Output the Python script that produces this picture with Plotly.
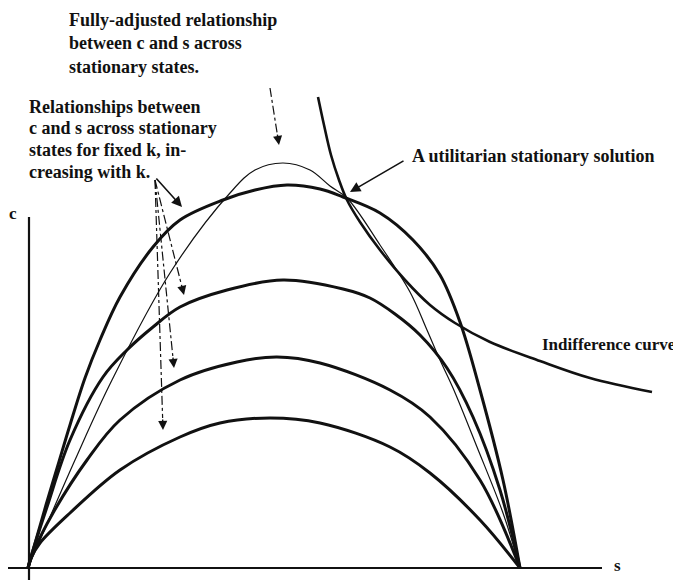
import numpy as np
import plotly.graph_objects as go

# ---- data (s, c) in arbitrary diagram units ----
# fixed-k curves, k increasing from k4 (lowest) to k1 (highest)
k1_s = [0, 8, 18, 30, 42, 57, 72, 92, 125, 152, 195, 227, 259, 292, 315, 352, 385, 412, 432, 452, 475, 492]
k1_c = [0, 28, 63, 103, 143, 190, 228, 271, 321, 348, 368, 378, 383, 379, 371, 355, 328, 293, 246, 178, 88, 0]

k2_s = [0, 2, 19, 42, 75, 99, 125, 152, 199, 255, 315, 342, 367, 392, 419, 445, 472, 492]
k2_c = [0, 8, 61, 128, 191, 218, 241, 261, 278, 288, 279, 270, 254, 233, 200, 151, 78, 0]

k3_s = [0, 5, 25, 59, 92, 152, 209, 249, 292, 362, 402, 452, 492]
k3_c = [0, 15, 55, 108, 148, 188, 206, 211, 205, 178, 151, 88, 0]

k4_s = [0, 3, 12, 42, 92, 152, 192, 242, 292, 362, 402, 452, 492]
k4_c = [0, 10, 25, 55, 98, 131, 145, 150, 145, 121, 95, 48, 0]

# fully-adjusted relationship (thin)
fa_s = [0, 47, 84, 142, 202, 227, 255, 282, 302, 319, 352, 382, 399, 412, 425, 449, 475, 492]
fa_c = [0, 108, 188, 295, 375, 398, 405, 398, 382, 370, 323, 276, 238, 208, 180, 121, 55, 0]

# indifference curve
ic_s = [290, 296, 303, 311, 319, 332, 352, 377, 402, 427, 462, 512, 562, 624]
ic_c = [471, 443, 413, 388, 368, 346, 318, 288, 263, 245, 226, 207, 190, 176]

curves = [(k1_s, k1_c, 3.0), (k2_s, k2_c, 3.0), (k3_s, k3_c, 3.0), (k4_s, k4_c, 3.0),
          (fa_s, fa_c, 1.2), (ic_s, ic_c, 2.6)]

# arrows: (tail_s, tail_c, head_s, head_c)
solid_arrows = [(127, 391, 154, 361), (377, 408, 322, 376)]
dashed_arrows = [(242, 480, 251, 423), (127, 388, 156, 273), (127, 388, 146, 200), (127, 388, 135, 138)]

# texts
text_lines = [
    ("Fully-adjusted relationship", 39, 548),
    ("between c and s across", 39, 525),
    ("stationary states.", 39, 501),
    ("Relationships between", -1, 461),
    ("c and s across stationary", -1, 440),
    ("states for fixed k, in-", -1, 418),
    ("creasing with k.", -1, 396),
    ("A utilitarian stationary solution", 382, 412),
]
ic_label = ("Indifference curve", 512, 224)
axis_labels = [("c", -15, 355), ("s", 589, 3)]

FONT = "Liberation Serif"
INK = "#111111"

fig = go.Figure()

# axes
fig.add_trace(go.Scatter(x=[1, 1], y=[-12, 351], mode="lines", line=dict(color=INK, width=2.2)))
fig.add_trace(go.Scatter(x=[-20, 574], y=[0, 0], mode="lines", line=dict(color=INK, width=2.2)))

for s, c, w in curves:
    fig.add_trace(go.Scatter(x=s, y=c, mode="lines",
                             line=dict(color=INK, width=w, shape="spline", smoothing=1.0)))

annotations = []
for ts, tc, hs, hc in solid_arrows:
    annotations.append(dict(x=hs, y=hc, ax=ts, ay=tc, xref="x", yref="y", axref="x", ayref="y",
                            text="", showarrow=True, arrowhead=2, arrowsize=1.3, arrowwidth=1.6,
                            arrowcolor=INK))
for ts, tc, hs, hc in dashed_arrows:
    v = np.array([hs - ts, hc - tc], dtype=float)
    u = v / np.linalg.norm(v)
    back = np.array([hs, hc]) - 12 * u
    fig.add_trace(go.Scatter(x=[ts, back[0]], y=[tc, back[1]], mode="lines",
                             line=dict(color=INK, width=1.2, dash="dashdot")))
    annotations.append(dict(x=hs, y=hc, ax=back[0], ay=back[1], xref="x", yref="y",
                            axref="x", ayref="y", text="", showarrow=True, arrowhead=2,
                            arrowsize=1.3, arrowwidth=1.4, arrowcolor=INK))

for t, x, y in text_lines:
    annotations.append(dict(x=x, y=y, xref="x", yref="y", text=t, showarrow=False,
                            xanchor="left", yanchor="middle",
                            font=dict(family=FONT, size=18, color=INK, weight="bold")))
annotations.append(dict(x=ic_label[1], y=ic_label[2], xref="x", yref="y", text=ic_label[0],
                        showarrow=False, xanchor="left", yanchor="middle",
                        font=dict(family=FONT, size=17, color=INK, weight="bold")))
for t, x, y in axis_labels:
    annotations.append(dict(x=x, y=y, xref="x", yref="y", text=t, showarrow=False,
                            xanchor="center", yanchor="middle",
                            font=dict(family=FONT, size=17, color=INK, weight="bold")))

# page body has an 8px margin: figure is 673x575 and placed at (8, 8) of the window
fig.update_layout(
    width=673, height=575, margin=dict(l=0, r=0, t=0, b=0),
    paper_bgcolor="white", plot_bgcolor="white", showlegend=False,
    xaxis=dict(range=[-20, 653], visible=False, fixedrange=True),
    yaxis=dict(range=[-15, 560], visible=False, fixedrange=True),
    annotations=annotations,
)

fig.write_html("out.html")
